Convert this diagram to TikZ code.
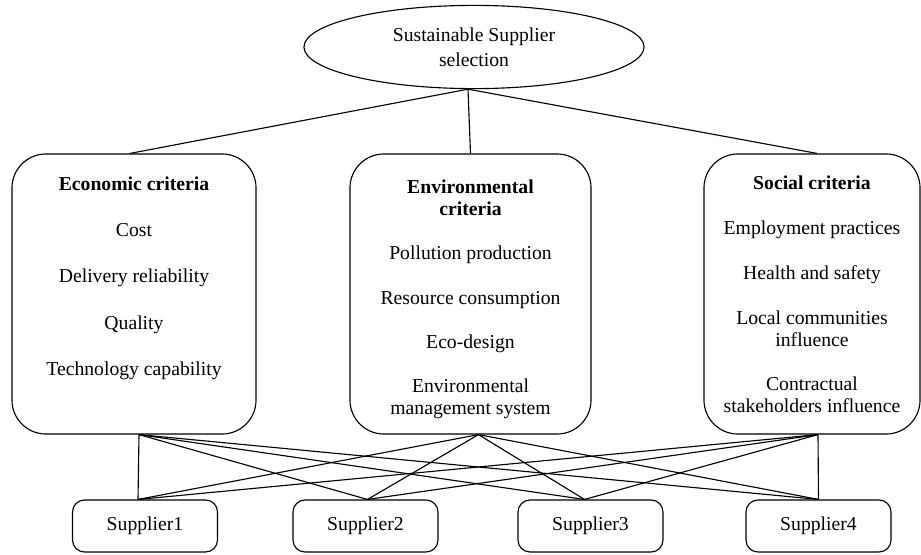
\documentclass[tikz,border=0pt]{standalone}
\usepackage{fontspec}
\setmainfont{Liberation Serif}
\usetikzlibrary{positioning,shapes.geometric,calc}

\begin{document}
\begin{tikzpicture}[x=0.025cm,y=-0.025cm,line width=0.8pt,
	every node/.style={draw=black,align=center,font=\fontsize{14}{15.6}\selectfont},
	crit/.style={rounded corners=0.85cm,minimum height=7cm},
	supp/.style={rounded corners=0.3cm,minimum width=3.625cm,minimum height=1.3cm}]

		\useasboundingbox (0,0) rectangle (921,554);

		%goal
		\node[ellipse,minimum width=8.5cm,minimum height=2.08cm] (n1) at (474,47) {\raisebox{-2pt}[\height][\depth]{\begin{tabular}{c}Sustainable Supplier\\[2pt]selection\end{tabular}}};

		%criteria
		\node[crit,minimum width=6.1cm] (n2) at (134,294) {\raisebox{11pt}[\height][\depth]{\begin{tabular}{c}\textbf{Economic criteria}\\[17.3pt]Cost\\[17.3pt]Delivery reliability\\[17.3pt]Quality\\[17.3pt]Technology capability\end{tabular}}};
		\node[crit,minimum width=6.025cm] (n3) at (470.5,294) {\raisebox{-4pt}[\height][\depth]{\begin{tabular}{c}\textbf{Environmental}\\\textbf{criteria}\\[16pt]Pollution production\\[16pt]Resource consumption\\[16pt]Eco-design\\[16pt]Environmental\\management system\end{tabular}}};
		\node[crit,minimum width=5.4cm] (n4) at (812,294) {\raisebox{-2pt}[\height][\depth]{\begin{tabular}{c}\textbf{Social criteria}\\[16.3pt]Employment practices\\[16.3pt]Health and safety\\[16.3pt]Local communities\\influence\\[16.3pt]Contractual\\stakeholders influence\end{tabular}}};

		%suppliers
		\node[supp] (n5) at (145,526) {Supplier1};
		\node[supp] (n6) at (365.5,526) {Supplier2};
		\node[supp] (n7) at (590.5,526) {Supplier3};
		\node[supp] (n8) at (818.5,526) {Supplier4};

		%goal edges
		\coordinate (g1) at ($(n1.south)+(-6,0)$);
		\draw (g1) -- ($(n2.north)+(-4,0)$);
		\draw (g1) -- (n3.north);
		\draw (g1) -- ($(n4.north)+(5,0)$);

		%end points
		\coordinate (b2) at ($(n2.south)+(5,0)$);
		\coordinate (b3) at ($(n3.south)+(8,0)$);
		\coordinate (b4) at ($(n4.south)+(6,0)$);
		\coordinate (t5) at ($(n5.north)+(-7,0)$);
		\coordinate (t6) at ($(n6.north)+(2,0)$);
		\coordinate (t7) at ($(n7.north)+(-6,0)$);
		\coordinate (t8) at (n8.north);

		%supplier edges
		\draw (b2) -- (t5);
		\draw (b2) -- (t6);
		\draw (b2) -- (t7);
		\draw (b2) -- (t8);
		\draw (b3) -- (t5);
		\draw (b3) -- (t6);
		\draw (b3) -- (t7);
		\draw (b3) -- (t8);
		\draw (b4) -- (t5);
		\draw (b4) -- (t6);
		\draw (b4) -- (t7);
		\draw (b4) -- (t8);
\end{tikzpicture}
\end{document}
